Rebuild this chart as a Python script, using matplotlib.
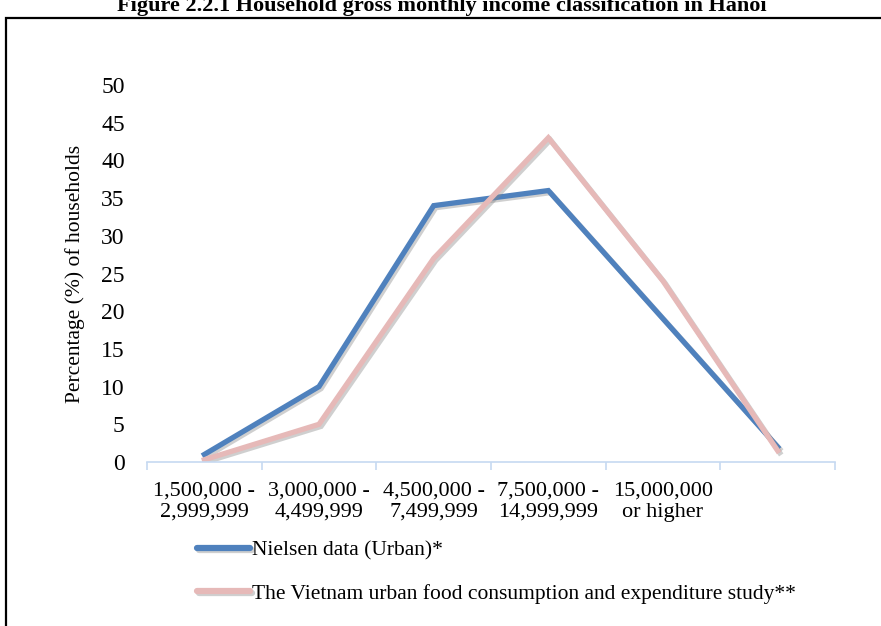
import matplotlib
matplotlib.use("Agg")
import matplotlib.pyplot as plt
import matplotlib.patheffects as pe
from matplotlib.patches import Rectangle

# Income brackets (VND per month); the sixth category has no label
categories = ["1,500,000 -\n2,999,999", "3,000,000 -\n4,499,999",
              "4,500,000 -\n7,499,999", "7,500,000 -\n14,999,999",
              "15,000,000\nor higher", ""]
nielsen = [1, 10, 34, 36, 19, 2]
vietnam_study = [0.3, 5, 27, 43, 24, 1.5]
series_names = ["Nielsen data (Urban)*",
                "The Vietnam urban food consumption and expenditure study**"]
series_colors = ["#4f81bd", "#e6b9b8"]
yticks = [0, 5, 10, 15, 20, 25, 30, 35, 40, 45, 50]
title = "Figure 2.2.1 Household gross monthly income classification in Hanoi"

plt.rcParams["font.family"] = ["Liberation Serif", "DejaVu Serif"]

W, H = 881, 626
fig = plt.figure(figsize=(W / 100, H / 100), dpi=100)
fig.patch.set_facecolor("white")

def fx(px):
    return px / W

def fy(py):
    return 1 - py / H

# chart frame
fig.patches.append(Rectangle((fx(6), fy(H + 10)), fx(W + 20), fy(18) - fy(H + 10),
                             transform=fig.transFigure, fill=False,
                             edgecolor="black", linewidth=1.6))
fig.text(fx(442), fy(11), title, ha="center", va="baseline",
         fontsize=16, fontweight="bold")

ax = fig.add_axes([fx(147), fy(462), fx(835) - fx(147), fy(85) - fy(462)])
x = list(range(len(categories)))
shadow = [pe.SimpleLineShadow(offset=(1.5, -1.5), shadow_color="#888888", alpha=0.4),
          pe.Normal()]
lines = []
for vals, name, col in zip([nielsen, vietnam_study], series_names, series_colors):
    ln, = ax.plot(x, vals, color=col, linewidth=3.8, label=name,
                  solid_joinstyle="miter", path_effects=shadow)
    lines.append(ln)

ax.set_xlim(-0.5, len(categories) - 0.5)
ax.set_ylim(0, 50)
ax.set_yticks(yticks)
ax.set_yticklabels([str(v) for v in yticks], fontsize=17)
ax.tick_params(axis="y", length=0, pad=16)

ax.set_xticks(x)
ax.set_xticklabels(categories, fontsize=16, linespacing=1.15)
ax.tick_params(axis="x", which="major", length=0, pad=14)
ax.set_xticks([i - 0.5 for i in range(len(categories) + 1)], minor=True)
ax.tick_params(axis="x", which="minor", length=6, width=1.2, color="#c6d9f1",
               direction="out")

for side in ["top", "right", "left"]:
    ax.spines[side].set_visible(False)
ax.spines["bottom"].set_color("#c6d9f1")
ax.spines["bottom"].set_linewidth(1.2)

ax.set_ylabel("Percentage (%) of households", fontsize=15.5)
ax.yaxis.set_label_coords(-(147 - 85) / (835 - 147), 0.5)

leg = fig.legend(handles=lines, labels=series_names, loc="upper left",
                 bbox_to_anchor=(fx(197), fy(540)), frameon=False,
                 fontsize=15.5, handlelength=2.45, handletextpad=0.12,
                 labelspacing=1.1, borderaxespad=0, borderpad=0)
for h in leg.legend_handles:
    h.set_linewidth(4.5)
    h.set_solid_capstyle("round")

fig.savefig("out.png", dpi=100, facecolor="white")
